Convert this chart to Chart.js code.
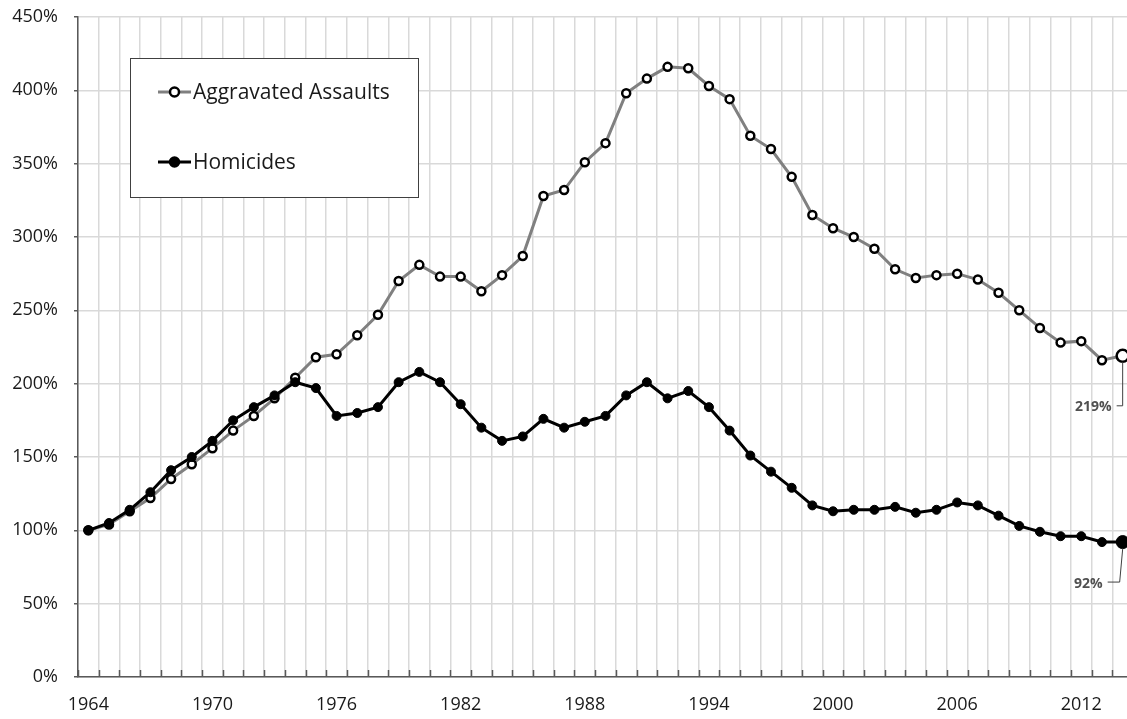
<!DOCTYPE html>
<html>
<head>
<meta charset="utf-8">
<script src="https://cdn.jsdelivr.net/npm/chart.js@4/dist/chart.umd.min.js"></script>
<style>
  html, body { margin: 0; padding: 0; background: #ffffff; overflow: hidden; }
  #wrap { width: 1127px; height: 719px; overflow: hidden; position: relative; }
  canvas { display: block; }
</style>
</head>
<body>
<div id="wrap"><canvas id="c" width="1133" height="719" style="width:1133px;height:719px"></canvas></div>
<script>
const years = [];
for (let y = 1964; y <= 2014; y++) years.push(String(y));

const assaults = [100, 104, 113, 122, 135, 145, 156, 168, 178, 190, 204, 218, 220, 233, 247, 270, 281, 273, 273, 263, 274, 287, 328, 332, 351, 364, 398, 408, 416, 415, 403, 394, 369, 360, 341, 315, 306, 300, 292, 278, 272, 274, 275, 271, 262, 250, 238, 228, 229, 216, 219];
const homicides = [100, 105, 114, 126, 141, 150, 161, 175, 184, 192, 201, 197, 178, 180, 184, 201, 208, 201, 186, 170, 161, 164, 176, 170, 174, 178, 192, 201, 190, 195, 184, 168, 151, 140, 129, 117, 113, 114, 114, 116, 112, 114, 119, 117, 110, 103, 99, 96, 96, 92, 92];
const seriesNames = ['Aggravated Assaults', 'Homicides'];
const endLabels = ['219%', '92%'];
const yTicks = [0, 50, 100, 150, 200, 250, 300, 350, 400, 450];
const labelEvery = 6;

const FONT = "'Open Sans', 'Noto Sans', sans-serif";

const extras = {
  id: 'extras',
  afterDraw(chart) {
    const ctx = chart.ctx;
    const ca = chart.chartArea;
    const xs = chart.scales.x;
    const ys = chart.scales.y;
    ctx.save();
    // inward tick marks on x axis at category boundaries
    ctx.strokeStyle = '#595959';
    ctx.lineWidth = 1.5;
    const n = years.length;
    const w = (ca.right - ca.left) / n;
    for (let i = 0; i <= n; i++) {
      const x = Math.round(ca.left + i * w) + 0.5;
      ctx.beginPath();
      ctx.moveTo(x, ca.bottom - 7);
      ctx.lineTo(x, ca.bottom);
      ctx.stroke();
    }
    // legend box
    ctx.lineWidth = 1;
    ctx.strokeStyle = '#404040';
    ctx.fillStyle = '#ffffff';
    ctx.fillRect(130, 58, 288, 139);
    ctx.strokeRect(130.5, 58.5, 288, 139);
    const entries = [
      { y: 92, line: '#808080', fill: '#ffffff' },
      { y: 162, line: '#000000', fill: '#000000' }
    ];
    entries.forEach((e, i) => {
      ctx.strokeStyle = e.line;
      ctx.lineWidth = 3;
      ctx.beginPath();
      ctx.moveTo(158, e.y);
      ctx.lineTo(191, e.y);
      ctx.stroke();
      ctx.beginPath();
      ctx.arc(174.5, e.y, 4.5, 0, Math.PI * 2);
      ctx.fillStyle = e.fill;
      ctx.fill();
      ctx.strokeStyle = '#000000';
      ctx.lineWidth = 2.5;
      ctx.stroke();
      ctx.fillStyle = '#1a1a1a';
      ctx.font = '21px ' + FONT;
      ctx.textAlign = 'left';
      ctx.textBaseline = 'middle';
      ctx.fillText(seriesNames[i], 193, e.y + 1);
    });
    // end labels with leader lines
    const last = years.length - 1;
    const px = xs.getPixelForValue(last);
    ctx.strokeStyle = '#404040';
    ctx.lineWidth = 1;
    ctx.font = 'bold 14px ' + FONT;
    ctx.fillStyle = '#505050';
    ctx.textAlign = 'right';
    ctx.textBaseline = 'middle';
    // assaults
    const pa = ys.getPixelForValue(assaults[last]);
    const la = pa + 50;
    ctx.beginPath();
    ctx.moveTo(px, pa + 6);
    ctx.lineTo(px, la);
    ctx.lineTo(px - 6, la);
    ctx.stroke();
    ctx.fillText(endLabels[0], px - 11, la + 1);
    // homicides
    const ph = ys.getPixelForValue(homicides[last]);
    const lh = ph + 40;
    ctx.beginPath();
    ctx.moveTo(px, ph + 7);
    ctx.lineTo(px - 3, lh);
    ctx.lineTo(px - 15, lh);
    ctx.stroke();
    ctx.fillText(endLabels[1], px - 20, lh + 2);
    ctx.restore();
  }
};

const lastIdx = years.length - 1;

new Chart(document.getElementById('c'), {
  type: 'line',
  data: {
    labels: years,
    datasets: [
      {
        label: seriesNames[0],
        data: assaults,
        borderColor: '#808080',
        borderWidth: 3,
        pointBackgroundColor: '#ffffff',
        pointBorderColor: '#000000',
        pointBorderWidth: 2.5,
        pointRadius: (c) => c.dataIndex === lastIdx ? 6 : 4,
        tension: 0,
        order: 2
      },
      {
        label: seriesNames[1],
        data: homicides,
        borderColor: '#000000',
        borderWidth: 3,
        pointBackgroundColor: '#000000',
        pointBorderColor: '#000000',
        pointBorderWidth: 1,
        pointRadius: (c) => c.dataIndex === lastIdx ? 6.5 : 4.5,
        tension: 0,
        order: 1
      }
    ]
  },
  options: {
    responsive: false,
    devicePixelRatio: 1,
    animation: false,
    layout: { autoPadding: false, padding: { top: 17, right: 0, bottom: 0, left: 0 } },
    plugins: { legend: { display: false }, tooltip: { enabled: false } },
    scales: {
      x: {
        type: 'category',
        offset: true,
        grid: { offset: true, color: '#d9d9d9', lineWidth: 1.5, drawTicks: false },
        border: { color: '#595959', width: 1.5 },
        ticks: {
          autoSkip: false,
          maxRotation: 0,
          padding: 17,
          color: '#1a1a1a',
          font: { family: FONT, size: 18 },
          callback: (v, i) => (i % labelEvery === 0 ? years[i] : '')
        },
        afterFit: (s) => { s.height = 42; s.paddingLeft = 0; s.paddingRight = 0; }
      },
      y: {
        min: 0,
        max: 450,
        grid: { color: '#d9d9d9', lineWidth: 1.5, tickColor: '#595959', tickLength: 4 },
        border: { color: '#595959', width: 1.5 },
        afterBuildTicks: (s) => { s.ticks = yTicks.map(v => ({ value: v })); },
        ticks: {
          padding: 16,
          color: '#1a1a1a',
          font: { family: FONT, size: 18 },
          callback: (v) => v + '%'
        },
        afterFit: (s) => { s.width = 78; s.paddingTop = 0; s.paddingBottom = 0; }
      }
    }
  },
  plugins: [extras]
});
</script>
</body>
</html>
